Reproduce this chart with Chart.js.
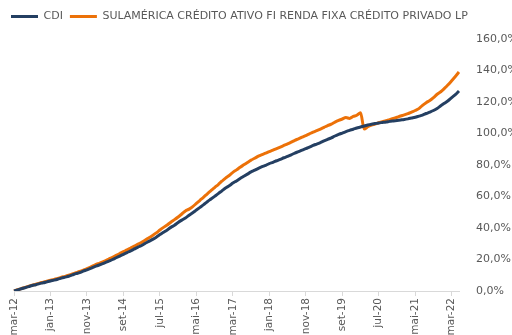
<!DOCTYPE html>
<html>
<head>
<meta charset="utf-8">
<script src="https://cdn.jsdelivr.net/npm/chart.js@4"></script>
<style>
  body { margin: 0; background: #fff; }
</style>
</head>
<body>
<canvas id="chart" width="512" height="335"></canvas>
<script>
// monthly axis: mar-12 .. mai-22
const monthNames = ["jan", "fev", "mar", "abr", "mai", "jun", "jul", "ago", "set", "out", "nov", "dez"];
const months = [];
for (let i = 0; i < 123; i++) {
  const m = (2 + i) % 12;
  const y = 12 + Math.floor((2 + i) / 12);
  months.push(monthNames[m] + "-" + y);
}

// accumulated return, %
const cdi = [
  0, 0.7, 1.4, 2.1, 2.8, 3.5, 4.0, 4.7, 5.2, 5.8,
  6.4, 6.9, 7.5, 8.2, 8.8, 9.4, 10.2, 11.0, 11.7, 12.6, 13.4, 14.3,
  15.3, 16.2, 17.1, 18.0, 19.0, 20.0, 21.1, 22.2, 23.3, 24.4, 25.5, 26.7,
  27.9, 28.9, 30.3, 31.5, 32.8, 34.2, 35.8, 37.3, 38.8, 40.4, 41.8, 43.5,
  45.0, 46.4, 48.1, 49.7, 51.4, 53.1, 54.8, 56.7, 58.4, 60.1, 61.8, 63.6,
  65.4, 66.8, 68.5, 69.9, 71.4, 72.8, 74.2, 75.6, 76.7, 77.9, 78.9, 79.8,
  80.9, 81.7, 82.7, 83.6, 84.6, 85.5, 86.5, 87.6, 88.5, 89.5, 90.4, 91.4,
  92.4, 93.3, 94.2, 95.3, 96.3, 97.2, 98.4, 99.4, 100.3, 101.2, 102.0, 102.7,
  103.5, 104.1, 104.8, 105.4, 105.9, 106.3, 106.7, 107.0, 107.3, 107.7, 108.0, 108.3,
  108.6, 108.9, 109.3, 109.8, 110.3, 111.0, 111.7, 112.7, 113.6, 114.6, 115.9, 117.6,
  119.2, 120.8, 122.8, 124.7, 127.0
];

const fundo = [
  0, 0.8, 1.5, 2.3, 3.0, 3.7, 4.3, 5.0, 5.6, 6.2,
  6.8, 7.4, 8.0, 8.7, 9.3, 10.0, 10.8, 11.6, 12.4, 13.3, 14.2, 15.2,
  16.3, 17.3, 18.2, 19.2, 20.3, 21.4, 22.6, 23.8, 25.0, 26.1, 27.3, 28.5,
  29.8, 30.9, 32.4, 33.8, 35.3, 36.9, 38.7, 40.4, 41.9, 43.7, 45.3, 47.0,
  48.9, 50.8, 52.0, 53.6, 55.6, 57.6, 59.6, 61.7, 63.7, 65.7, 67.6, 69.7,
  71.7, 73.3, 75.3, 76.9, 78.6, 80.1, 81.6, 83.1, 84.3, 85.6, 86.6, 87.5,
  88.5, 89.4, 90.4, 91.4, 92.4, 93.4, 94.5, 95.7, 96.6, 97.7, 98.7, 99.8,
  100.9, 101.8, 102.8, 103.9, 105.0, 105.9, 107.2, 108.3, 109.2, 110.1, 109.6, 110.8,
  111.6, 113.2, 102.8, 104.3, 105.3, 106.0, 106.8, 107.5, 108.1, 108.8, 109.5, 110.3,
  111.1, 111.8, 112.6, 113.6, 114.6, 115.8, 117.9, 119.6, 121.0, 122.8, 124.9, 126.5,
  128.6, 130.9, 133.5, 136.2, 139.0
];

const textColor = "#595959";

// a little extra room under the legend, and the legend pulled to the left edge
const legendGap = {
  id: "legendGap",
  beforeInit(chart) {
    const fit = chart.legend.fit;
    chart.legend.fit = function () {
      fit.bind(chart.legend)();
      this.height += 7;
    };
  },
  afterLayout(chart) {
    chart.legend.left -= 10;
    chart.legend.right -= 10;
  },
};

const ctx = document.getElementById("chart").getContext("2d");
const chart = new Chart(ctx, {
  type: "line",
  data: {
    labels: months,
    datasets: [
      {
        label: "CDI",
        data: cdi,
        borderColor: "#243f62",
        backgroundColor: "#243f62",
        borderWidth: 3,
        pointRadius: 0,
        pointStyle: "line",
        cubicInterpolationMode: "monotone",
        fill: false,
      },
      {
        label: "SULAMÉRICA CRÉDITO ATIVO FI RENDA FIXA CRÉDITO PRIVADO LP",
        data: fundo,
        borderColor: "#ec7108",
        backgroundColor: "#ec7108",
        borderWidth: 3,
        pointRadius: 0,
        pointStyle: "line",
        cubicInterpolationMode: "monotone",
        fill: false,
      },
    ],
  },
  plugins: [legendGap],
  options: {
    responsive: false,
    animation: false,
    layout: { padding: { left: 14, right: 0, top: 4, bottom: 0 } },
    plugins: {
      tooltip: { enabled: false },
      legend: {
        position: "top",
        align: "start",
        labels: {
          usePointStyle: true,
          pointStyleWidth: 27,
          color: textColor,
          font: { family: "DejaVu Sans", size: 11 },
          padding: 7,
        },
      },
    },
    scales: {
      x: {
        afterFit: (scale) => { scale.height = 44; },
        ticks: {
          autoSkip: false,
          maxRotation: 90,
          minRotation: 90,
          color: textColor,
          font: { family: "DejaVu Sans", size: 10.5 },
          padding: 2,
          callback: function (value, index) {
            return index % 10 === 0 ? months[index] : null;
          },
        },
        grid: {
          drawOnChartArea: false,
          color: "#d9d9d9",
          tickLength: 5,
        },
        border: { color: "#d9d9d9" },
      },
      y: {
        position: "right",
        min: 0,
        max: 160,
        afterFit: (scale) => { scale.width = 53; },
        ticks: {
          stepSize: 20,
          color: textColor,
          font: { family: "DejaVu Sans", size: 11 },
          padding: 9,
          callback: (v) => v.toFixed(1).replace(".", ",") + "%",
        },
        grid: { display: false },
        border: { display: false },
      },
    },
  },
});
</script>
</body>
</html>
